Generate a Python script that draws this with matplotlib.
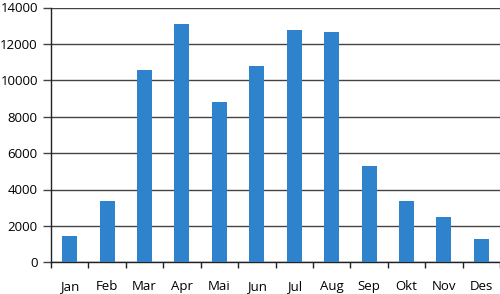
import matplotlib
matplotlib.use("Agg")
import matplotlib.pyplot as plt
import numpy as np

months = ["Jan", "Feb", "Mar", "Apr", "Mai", "Jun", "Jul", "Aug", "Sep", "Okt", "Nov", "Des"]
values = [1450, 3360, 10570, 13100, 8820, 10770, 12750, 12680, 5270, 3360, 2500, 1290]
yticks = [0, 2000, 4000, 6000, 8000, 10000, 12000, 14000]

plt.rcParams['font.family'] = ['Open Sans', 'DejaVu Sans']

fig = plt.figure(figsize=(5.0, 2.94), dpi=100)
ax = fig.add_axes([51/500, 1 - 262.3/294, 449/500, (262.3 - 7.5)/294])

x = np.arange(len(months))
ax.bar(x, values, width=0.4, color='#2f83cc', zorder=3)

ax.set_xlim(-0.5, len(months) - 0.5)
ax.set_ylim(0, 14000)
ax.set_yticks(yticks)
ax.set_yticklabels([str(v) for v in yticks], fontsize=9.5)
ax.tick_params(axis='y', length=6, width=1, color='#444444', pad=3.5)

ax.set_xticks(np.arange(-0.5, len(months) + 0.5, 1.0))
ax.set_xticklabels([])
ax.tick_params(axis='x', which='major', length=4, width=1, direction='out', color='#222222')
ax.set_xticks(x, minor=True)
ax.set_xticklabels(months, minor=True, fontsize=9.5)
ax.tick_params(axis='x', which='minor', length=0, pad=13)

ax.yaxis.grid(True, color='#444444', linewidth=1.0, zorder=0)
ax.set_axisbelow(True)
for s in ['top', 'right']:
    ax.spines[s].set_visible(False)
ax.spines['left'].set_color('#222222')
ax.spines['bottom'].set_color('#222222')
ax.spines['left'].set_linewidth(1.0)
ax.spines['bottom'].set_linewidth(1.0)

fig.savefig("out.png", dpi=100)
